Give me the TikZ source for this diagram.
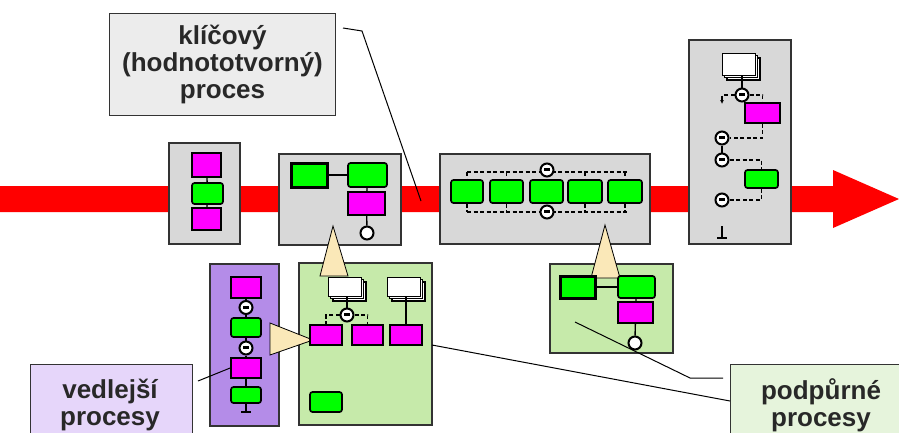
\documentclass[tikz,border=0pt]{standalone}
\usepackage{fontspec}
\setmainfont{Liberation Sans}
\usetikzlibrary{shapes.misc,arrows.meta}
\definecolor{epcgreen}{RGB}{0,255,0}
\definecolor{epcmag}{RGB}{255,0,255}
\definecolor{graybox}{RGB}{216,216,216}
\definecolor{purplebox}{RGB}{180,140,232}
\definecolor{greenbox}{RGB}{198,234,170}
\definecolor{beige}{RGB}{250,232,184}
\definecolor{labgray}{RGB}{236,236,236}
\definecolor{labpurple}{RGB}{230,214,250}
\definecolor{labgreen}{RGB}{230,244,220}
\definecolor{arrowred}{RGB}{255,0,0}
\definecolor{labtext}{RGB}{40,40,40}
\tikzset{
  fnbox/.style={draw=black, line width=1.7pt, fill=epcgreen, rounded corners=2.5pt, inner sep=0pt},
  fnthick/.style={draw=black, line width=3pt, fill=epcgreen, inner sep=0pt},
  evbox/.style={draw=black, line width=1.7pt, fill=epcmag, chamfered rectangle,
    chamfered rectangle xsep=3pt, chamfered rectangle ysep=3pt, inner sep=0pt},
  docbox/.style={draw=black, line width=1.2pt, fill=white, inner sep=0pt},
  conn/.style={circle, draw=black, line width=2pt, fill=white, minimum size=13pt, inner sep=0pt},
  procbox/.style={draw=black!80, line width=1.3pt},
  labbox/.style={draw=black!80, line width=1pt, align=center, text=labtext, font=\bfseries\fontsize{26}{27}\selectfont, inner sep=0pt},
  labtxt/.style={align=center, text=labtext, font=\bfseries\fontsize{26}{27}\selectfont, inner sep=0pt},
  callout/.style={draw=black, line width=0.8pt, fill=beige},
  flow/.style={draw=black, line width=1.4pt},
  dflow/.style={draw=black, line width=1.4pt, dash pattern=on 4pt off 2.5pt},
  leader/.style={draw=black, line width=1pt}
}
\newcommand{\stackdoc}[5]{%
  \fill[white,draw=black,line width=1.2pt] (#2+5,#3+5) rectangle ++(#4,#5);
  \fill[white,draw=black,line width=1.2pt] (#2+2.5,#3+2.5) rectangle ++(#4,#5);
  \node[docbox, minimum width=#4, minimum height=#5, anchor=north west] (#1) at (#2,#3) {};
}
\newcommand{\connmark}[1]{%
  \fill[black] ([xshift=-3pt,yshift=-1pt]#1.center) rectangle ([xshift=3pt,yshift=2pt]#1.center);
}
\begin{document}
\begin{tikzpicture}[x=1pt,y=-1pt]
\useasboundingbox (0,0) rectangle (899,432);
% red main arrow
\fill[arrowred] (0,186) -- (833,186) -- (833,170) -- (899,199) -- (833,228) -- (833,212) -- (0,212) -- cycle;

% process containers
\draw[procbox, fill=graybox] (169,143) rectangle (240,244);
\draw[procbox, fill=graybox] (279,154) rectangle (401,245);
\draw[procbox, fill=graybox] (440,154) rectangle (650,244);
\draw[procbox, fill=graybox] (689,40) rectangle (791,244);
\draw[procbox, fill=purplebox] (210,264) rectangle (279,426);
\draw[procbox, fill=greenbox] (299,263) rectangle (432,425);
\draw[procbox, fill=greenbox] (550,264) rectangle (673,353);

% callout triangles
\draw[callout] (333,226) -- (348,276) -- (320,276) -- cycle;
\draw[callout] (605,225) -- (620,278) -- (591,278) -- cycle;
\draw[callout] (270,323) -- (313,340) -- (270,355) -- cycle;

% ---- gray box 1
\node[evbox, minimum width=29, minimum height=24] (a1) at (206.5,165) {};
\node[fnbox, minimum width=31, minimum height=21] (a2) at (207.5,193.5) {};
\node[evbox, minimum width=29, minimum height=22] (a3) at (206.5,219) {};
\draw[flow] (a1) -- (a2);
\draw[flow] (a2) -- (a3);

% ---- gray box 2
\node[fnthick, minimum width=36, minimum height=24] (b1) at (309,175) {};
\node[fnbox, minimum width=39, minimum height=24] (b2) at (367.5,175) {};
\node[evbox, minimum width=37, minimum height=23] (b3) at (366.5,203.5) {};
\node[conn] (b4) at (367,233) {};
\draw[flow] (b1) -- (b2);
\draw[flow] (b2) -- (b3);
\draw[flow] (b3) -- (b4);

% ---- gray box 3
\coordinate (ct1) at (467,172); \coordinate (ct2) at (627,172);
\coordinate (cb1) at (467,212); \coordinate (cb2) at (627,212);
\draw[dflow] (ct1) -- (ct2);
\draw[dflow] (cb1) -- (cb2);
\node[fnbox, minimum width=32, minimum height=23] (c1) at (467,191.5) {};
\node[fnbox, minimum width=33, minimum height=23] (c2) at (506.5,191.5) {};
\node[fnbox, minimum width=33, minimum height=23] (c3) at (546.5,191.5) {};
\node[fnbox, minimum width=34, minimum height=23] (c4) at (585,191.5) {};
\node[fnbox, minimum width=34, minimum height=23] (c5) at (625,191.5) {};
\foreach \n/\x in {c1/467,c2/506.5,c4/585,c5/625}{
  \draw[dflow] (\x,172) -- (\n.north);
  \draw[dflow] (\n.south) -- (\x,212);
}
\node[conn] (c6) at (547,170) {};
\node[conn] (c7) at (547,212) {};
\connmark{c6}\connmark{c7}

% ---- gray box 4
\stackdoc{d1}{722}{53}{33}{22}
\node[conn] (d2) at (742,95) {};
\node[evbox, minimum width=35, minimum height=20] (d3) at (762.5,113) {};
\node[conn] (d4) at (722,138) {};
\node[conn] (d5) at (722,160) {};
\node[fnbox, minimum width=33, minimum height=18] (d6) at (761.5,179) {};
\node[conn] (d7) at (722,200) {};
\connmark{d2}\connmark{d4}\connmark{d5}\connmark{d7}
\coordinate (d8) at (722,238);
\draw[flow] (d1.south -| d2) -- (d2);
\draw[dflow, -{Latex[length=4pt,width=4pt]}] (d2) -| (722,104);
\draw[dflow] (d2) -| (d3);
\draw[dflow] (d3) |- (d4);
\draw[flow] (d4) -- (d5);
\draw[dflow] (d5) -| (d6);
\draw[dflow] (d6) |- (d7);
\draw[flow] (722,226) -- (d8);
\draw[flow] (717,238) -- (727,238);

% ---- purple box
\node[evbox, minimum width=30, minimum height=21] (e1) at (246,287.5) {};
\node[conn] (e2) at (246,307.5) {};
\node[fnbox, minimum width=30, minimum height=19] (e3) at (246,327.5) {};
\node[conn] (e4) at (246,348) {};
\node[evbox, minimum width=30, minimum height=20] (e5) at (246,368) {};
\node[fnbox, minimum width=30, minimum height=16] (e6) at (246,395) {};
\coordinate (e7) at (246,412);
\draw[flow] (e1) -- (e2);
\draw[flow] (e2) -- (e3);
\draw[flow] (e3) -- (e4);
\draw[flow] (e4) -- (e5);
\draw[flow] (e5) -- (e6);
\draw[flow] (e6) -- (e7);
\draw[flow] (241,412) -- (251,412);
\connmark{e2}\connmark{e4}

% ---- green box 1
\stackdoc{f1}{328}{277}{33}{19}
\stackdoc{f2}{387}{277}{33}{19}
\node[conn] (f3) at (347,315) {};
\connmark{f3}
\node[evbox, minimum width=32, minimum height=20] (f4) at (326,335) {};
\node[evbox, minimum width=31, minimum height=20] (f5) at (367.5,335) {};
\node[evbox, minimum width=32, minimum height=20] (f6) at (406,335) {};
\node[fnbox, minimum width=32, minimum height=20] (f7) at (326,402) {};
\draw[flow] (f1.south -| f3) -- (f3);
\draw[dflow] (f3) -| (f4);
\draw[dflow] (f3) -| (f5);
\draw[flow] (f2.south -| f6) -- (f6);

% ---- green box 2
\node[fnthick, minimum width=35, minimum height=22] (g1) at (577.5,287) {};
\node[fnbox, minimum width=37, minimum height=22] (g2) at (636.5,287) {};
\node[evbox, minimum width=35, minimum height=21] (g3) at (635.5,312.5) {};
\node[conn] (g4) at (635,343) {};
\draw[flow] (g1) -- (g2);
\draw[flow] (g2) -- (g3);
\draw[flow] (g3) -- (g4);

% ---- labels
\node[labbox, fill=labgray, minimum width=226, minimum height=102, anchor=north west] (L1) at (109,13)
  {klíčový\\(hodnototvorný)\\proces};
\draw[labbox, fill=labpurple] (30,364) rectangle (192,440);
\node[labtxt] (L2) at (110,405) {vedlejší\\procesy};
\draw[labbox, fill=labgreen] (730,364) rectangle (905,440);
\node[labtxt] (L3) at (821,405) {podpůrné\\procesy};

% ---- leader lines
\coordinate (k1) at (343,28); \coordinate (k2) at (362,31); \coordinate (k3) at (421,201);
\draw[leader] (k1) -- (k2) -- (k3);
\coordinate (v1) at (198,381);
\draw[leader] (v1) -- (e5.west);
\coordinate (p1) at (723,378); \coordinate (p2) at (690,378); \coordinate (p3) at (575,322);
\draw[leader] (p1) -- (p2) -- (p3);
\coordinate (q1) at (730,401); \coordinate (q2) at (432,345);
\draw[leader] (q1) -- (q2);
\end{tikzpicture}
\end{document}
